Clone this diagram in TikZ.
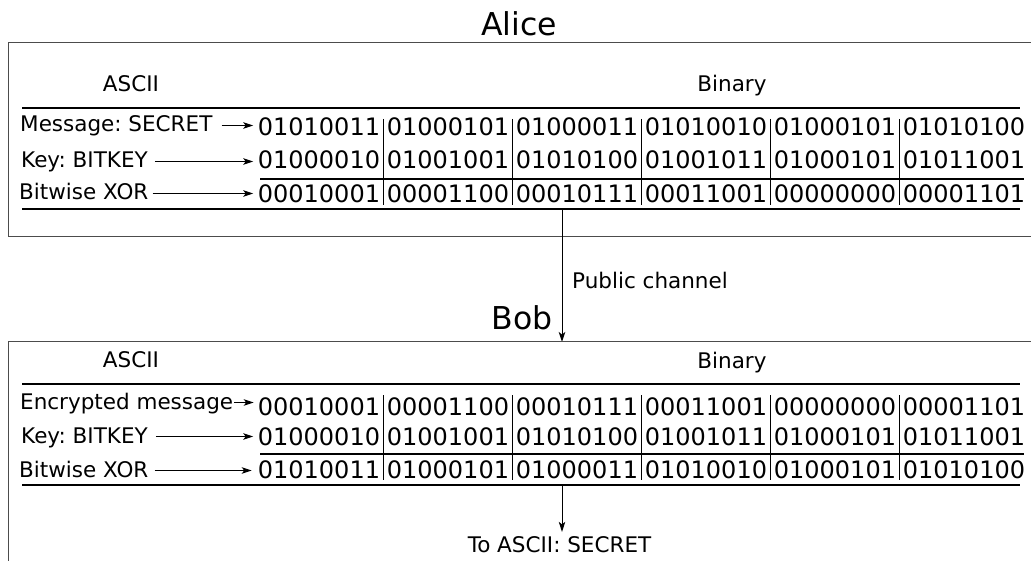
\documentclass[tikz,border=0pt]{standalone}
\usepackage{fontspec}
\setmainfont{DejaVu Sans}
\usetikzlibrary{arrows.meta}
\frenchspacing
\tikzset{
  byte/.style={anchor=base, inner sep=0pt, font=\fontsize{24}{28}\selectfont},
  lbl/.style={anchor=base west, inner sep=0pt, font=\fontsize{21.5}{26}\selectfont},
  head/.style={anchor=base, inner sep=0pt, font=\fontsize{21.5}{26}\selectfont},
  ttl/.style={anchor=base, inner sep=0pt, font=\fontsize{31.5}{36}\selectfont},
  rule/.style={line width=1.2pt},
  sep/.style={line width=1pt},
  frame/.style={line width=1pt, black!70},
  arr/.style={->, line width=1pt},
}
\begin{document}
\begin{tikzpicture}[x=1pt, y=-1pt, >={Stealth[length=10pt,width=6.5pt,inset=2.5pt]}]
    \useasboundingbox (0,0) rectangle (1031,561);
    \clip (0,0) rectangle (1031,561);

    % Alice 部分
    \node[ttl] (alice) at (519,36) {Alice};
    \draw[frame] (1040,43) -- (8,43) -- (8,237) -- (1040,237);
    \node[head] (aascii) at (131,92) {ASCII};
    \node[head] (abin) at (732,92) {Binary};
    \draw[rule] (22,108) -- (1020,108);

    \foreach \b [count=\i from 0] in {01010011,01000101,01000011,01010010,01000101,01010100}
        \node[byte] (am\i) at ({319+129*\i},136) {\b};
    \foreach \b [count=\i from 0] in {01000010,01001001,01010100,01001011,01000101,01011001}
        \node[byte] (ak\i) at ({319+129*\i},169) {\b};
    \foreach \b [count=\i from 0] in {00010001,00001100,00010111,00011001,00000000,00001101}
        \node[byte] (ax\i) at ({319+129*\i},203) {\b};

    \foreach \i in {0,...,4}
        \draw[sep] ({383.5+129*\i},119) -- ({383.5+129*\i},205);
    \draw[rule] (260,179) -- (1024,179);
    \draw[rule] (22,209) -- (1020,209);

    % 行标签
    \node[lbl] (amsg) at (20,132) {Message: SECRET};
    \node[lbl] (akey) at (21,168) {Key: BITKEY};
    \node[lbl] (axor) at (19,200) {Bitwise XOR};
    \coordinate (pm) at ([yshift=6.5pt]amsg.base east);
    \coordinate (pk) at ([yshift=6.5pt]akey.base east);
    \coordinate (px) at ([yshift=6.5pt]axor.base east);
    \draw[arr, shorten <=9pt, shorten >=4.5pt] (pm) -- (pm -| am0.west);
    \draw[arr, shorten <=7pt, shorten >=4.5pt] (pk) -- (pk -| ak0.west);
    \draw[arr, shorten <=4pt, shorten >=4.5pt] (px) -- (px -| ax0.west);

    % 公共信道
    \coordinate (chtop) at (562,209);
    \coordinate (chbot) at (562,342);
    \draw[arr] (chtop) -- (chbot);
    \node[lbl] (pub) at (572,289) {Public channel};

    % Bob 部分
    \node[ttl] (bob) at (522,330) {Bob};
    \draw[frame] (1040,342) -- (8,342) -- (8,570);
    \node[head] (bascii) at (131,367) {ASCII};
    \node[head] (bbin) at (732,368) {Binary};
    \draw[rule] (22,384) -- (1020,384);

    \foreach \b [count=\i from 0] in {00010001,00001100,00010111,00011001,00000000,00001101}
        \node[byte] (bm\i) at ({319+129*\i},415) {\b};
    \foreach \b [count=\i from 0] in {01000010,01001001,01010100,01001011,01000101,01011001}
        \node[byte] (bk\i) at ({319+129*\i},445) {\b};
    \foreach \b [count=\i from 0] in {01010011,01000101,01000011,01010010,01000101,01010100}
        \node[byte] (bx\i) at ({319+129*\i},478) {\b};

    \foreach \i in {0,...,4}
        \draw[sep] ({383.5+129*\i},395) -- ({383.5+129*\i},480);
    \draw[rule] (260,454) -- (1024,454);
    \draw[rule] (22,485) -- (1020,485);

    \node[lbl] (bmsg) at (20,409) {Encrypted message};
    \node[lbl] (bkey) at (21,443) {Key: BITKEY};
    \node[lbl] (bxor) at (19,477) {Bitwise XOR};
    \coordinate (qm) at ([yshift=6.5pt]bmsg.base east);
    \coordinate (qk) at ([yshift=6.5pt]bkey.base east);
    \coordinate (qx) at ([yshift=6.5pt]bxor.base east);
    \draw[arr, shorten <=1pt, shorten >=4pt] (qm) -- (qm -| bm0.west);
    \draw[arr, shorten <=8pt, shorten >=4.5pt] (qk) -- (qk -| bk0.west);
    \draw[arr, shorten <=6pt, shorten >=6pt] (qx) -- (qx -| bx0.west);

    % 解密结果
    \node[head] (toascii) at (559.5,552) {To ASCII: SECRET};
    \coordinate (bout) at (562,485);
    \draw[arr, shorten >=4pt] (bout) -- (bout |- toascii.north);
\end{tikzpicture}
\end{document}
